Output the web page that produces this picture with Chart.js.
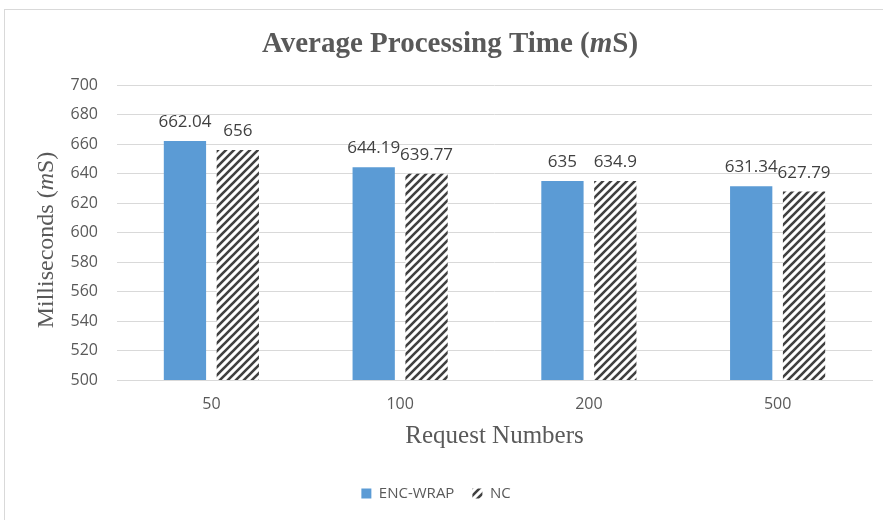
<!DOCTYPE html>
<html>
<head>
<meta charset="utf-8">
<script src="https://cdn.jsdelivr.net/npm/chart.js@4.4.1/dist/chart.umd.min.js"></script>
<style>
  html, body { margin: 0; padding: 0; background: #fff; }
  #frame { position: absolute; left: 4px; top: 9px; width: 900px; height: 530px; border: 1px solid #d9d9d9; }
  #wrap { position: absolute; left: 0; top: 0; width: 883px; height: 520px; }
</style>
</head>
<body>
<div id="frame"></div>
<div id="wrap"><canvas id="chart" width="883" height="520"></canvas></div>
<script>
const requestNumbers = ["50", "100", "200", "500"];
const encWrap = [662.04, 644.19, 635, 631.34];
const nc = [656, 639.77, 634.9, 627.79];
const valueLabelsEnc = ["662.04", "644.19", "635", "631.34"];
const valueLabelsNc = ["656", "639.77", "634.9", "627.79"];

const SERIF = '"Liberation Serif", "Times New Roman", serif';
const SANS = '"Open Sans", "Noto Sans", sans-serif';
const GREY = "#595959";

// diagonal hatch for the NC series
function makeHatch() {
    const s = 8;
    const c = document.createElement("canvas");
    c.width = s; c.height = s;
    const g = c.getContext("2d");
    g.fillStyle = "#fff";
    g.fillRect(0, 0, s, s);
    g.strokeStyle = "#404040";
    g.lineWidth = 2.6;
    g.beginPath();
    g.moveTo(0, s); g.lineTo(s, 0);
    g.moveTo(-2, 2); g.lineTo(2, -2);
    g.moveTo(s - 2, s + 2); g.lineTo(s + 2, s - 2);
    g.stroke();
    return g.createPattern(c, "repeat");
}

// draws a run of [text, font] pieces centred on 0,0
function drawPieces(ctx, pieces) {
    let total = 0;
    pieces.forEach(([t, f]) => { ctx.font = f; total += ctx.measureText(t).width; });
    let x = -total / 2;
    pieces.forEach(([t, f]) => {
        ctx.font = f;
        ctx.fillText(t, x, 0);
        x += ctx.measureText(t).width;
    });
}

const titlesPlugin = {
    id: "titles",
    afterDraw(chart) {
        const ctx = chart.ctx;
        ctx.save();
        ctx.fillStyle = GREY;
        ctx.textAlign = "left";
        ctx.textBaseline = "middle";
        // main title
        ctx.save();
        ctx.translate(450, 45);
        drawPieces(ctx, [
            ["Average Processing Time (", "bold 29px " + SERIF],
            ["m", "italic bold 29px " + SERIF],
            ["S)", "bold 29px " + SERIF],
        ]);
        ctx.restore();
        // y axis title
        ctx.save();
        ctx.translate(47, 240);
        ctx.rotate(-Math.PI / 2);
        drawPieces(ctx, [
            ["Milliseconds (", "24px " + SERIF],
            ["m", "italic 24px " + SERIF],
            ["S)", "24px " + SERIF],
        ]);
        ctx.restore();
        ctx.restore();
    }
};

const valueLabelPlugin = {
    id: "valueLabels",
    afterDatasetsDraw(chart) {
        const ctx = chart.ctx;
        const labels = [valueLabelsEnc, valueLabelsNc];
        ctx.save();
        ctx.font = "17px " + SANS;
        ctx.fillStyle = "#404040";
        ctx.textAlign = "center";
        ctx.textBaseline = "alphabetic";
        chart.data.datasets.forEach((ds, i) => {
            chart.getDatasetMeta(i).data.forEach((bar, j) => {
                ctx.fillText(labels[i][j], bar.x, bar.y - 14);
            });
        });
        ctx.restore();
    }
};

new Chart(document.getElementById("chart"), {
    type: "bar",
    data: {
        labels: requestNumbers,
        datasets: [
            { label: "ENC-WRAP", data: encWrap, backgroundColor: "#5b9bd5", borderWidth: 0 },
            { label: "NC", data: nc, backgroundColor: makeHatch(), borderWidth: 0 },
        ],
    },
    options: {
        responsive: false,
        animation: false,
        devicePixelRatio: 1,
        layout: { padding: { top: 85, right: 11, left: 0, bottom: 9 } },
        datasets: { bar: { barPercentage: 0.8, categoryPercentage: 0.56 } },
        scales: {
            y: {
                min: 500, max: 700,
                afterFit: (s) => { s.width = 117; },
                ticks: { stepSize: 20, color: GREY, font: { family: SANS, size: 16 }, padding: 19 },
                grid: { color: "#d9d9d9", drawTicks: false },
                border: { display: false },
            },
            x: {
                afterFit: (s) => { s.height = 88; },
                ticks: { color: GREY, font: { family: SANS, size: 16 }, padding: 15 },
                grid: { display: false, drawTicks: false },
                border: { color: "#d9d9d9" },
                title: { display: true, text: "Request Numbers", color: GREY, font: { family: SERIF, size: 25 }, padding: { top: 8, bottom: 17 } },
            },
        },
        plugins: {
            legend: {
                position: "bottom",
                labels: { color: GREY, font: { family: SANS, size: 15 }, boxWidth: 10, boxHeight: 10, padding: 18 },
            },
            tooltip: { enabled: false },
        },
    },
    plugins: [titlesPlugin, valueLabelPlugin],
});
</script>
</body>
</html>
